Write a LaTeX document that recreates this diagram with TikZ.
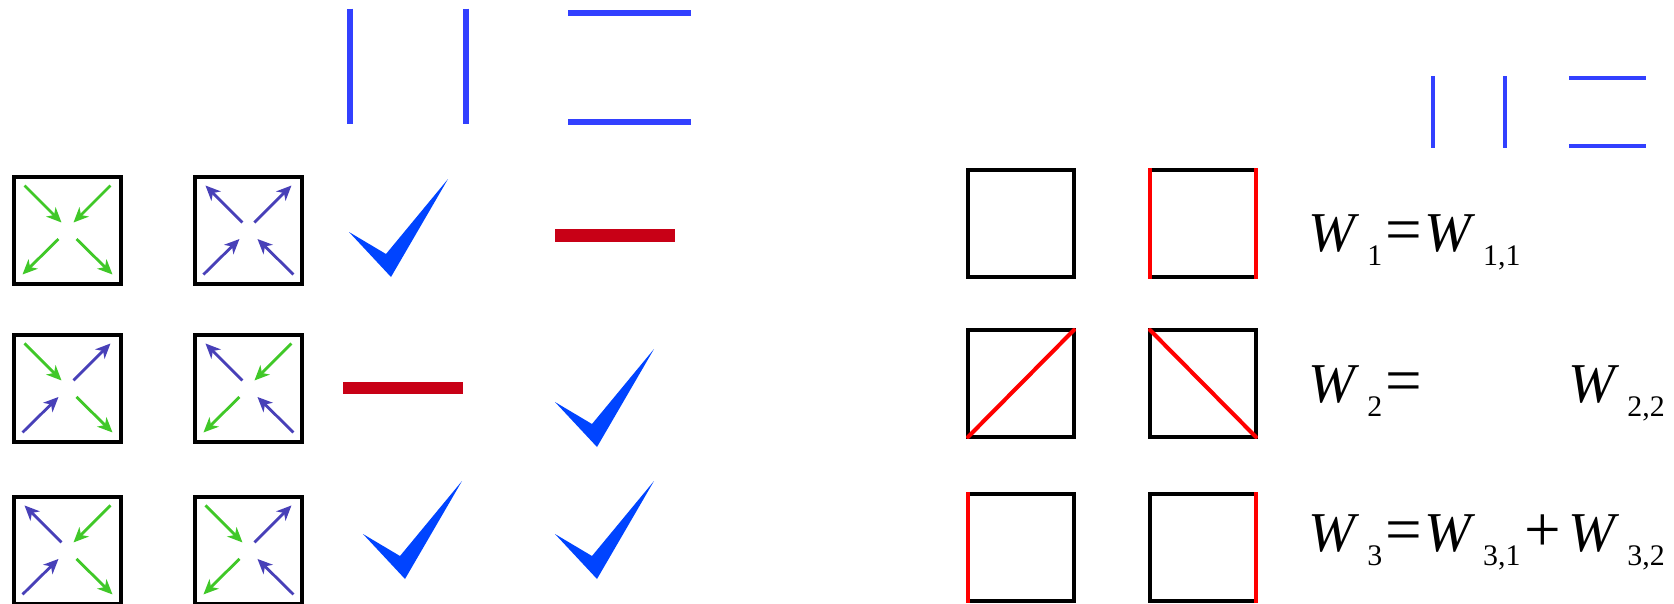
\documentclass[tikz,border=0pt]{standalone}
\usepackage{fontspec}
\setmainfont{Liberation Serif}
\usetikzlibrary{positioning, arrows.meta, calc}

\definecolor{arrgreen}{RGB}{64,200,40}
\definecolor{arrblue}{RGB}{72,64,184}
\definecolor{lineblue}{RGB}{50,64,255}
\definecolor{tickblue}{RGB}{0,68,255}
\definecolor{barred}{RGB}{200,0,22}
\definecolor{edgered}{RGB}{255,0,0}

\newcommand{\wsub}[1]{\textit{W}\kern4.5pt\raisebox{-8.5pt}{\fontsize{17pt}{17pt}\selectfont #1}}
\newcommand{\bigsym}[1]{{\fontsize{37pt}{37pt}\selectfont #1}}

\begin{document}
\begin{tikzpicture}[
    x=0.02cm, y=-0.02cm,
    cell/.style={draw, line width=2.3pt, minimum size=2.14cm, inner sep=0pt, outer sep=0pt},
    goesdown/.style={arrgreen, line width=1.6pt, -{Stealth[length=8.5pt, width=7.5pt, inset=2.5pt]}},
    goesup/.style={arrblue, line width=1.6pt, {Stealth[length=8.5pt, width=7.5pt, inset=2.5pt]}-},
    seg/.style={lineblue, line width=3.8pt},
    thinseg/.style={lineblue, line width=2.3pt},
    checkmk/.style={fill=tickblue},
    redbar/.style={fill=barred},
    hot/.style={edgered, line width=2.3pt, line cap=rect},
    eq/.style={font=\fontsize{32pt}{32pt}\selectfont, inner sep=0pt, anchor=base west},
]
\useasboundingbox (0,0) rectangle (1674,603);

% left grid of arrow cells
\node[cell] (b11) at (67.5,230.5) {};
\node[cell, right=1.48cm of b11] (b12) {};
\node[cell, below=1.02cm of b11] (b21) {};
\node[cell, right=1.48cm of b21] (b22) {};
\node[cell, below=1.1cm of b21] (b31) {};
\node[cell, right=1.48cm of b31] (b32) {};

\foreach \b/\p/\q/\r/\s in {b11/goesdown/goesdown/goesdown/goesdown,
    b12/goesup/goesup/goesup/goesup,
    b21/goesdown/goesup/goesup/goesdown,
    b22/goesup/goesdown/goesdown/goesup,
    b31/goesup/goesdown/goesup/goesdown,
    b32/goesdown/goesup/goesdown/goesup}{
  \draw[\p] ($(\b)+(-43,-45)$) -- ($(\b)+(-6,-8)$);
  \draw[\q] ($(\b)+(43,-45)$) -- ($(\b)+(6,-8)$);
  \draw[\r] ($(\b)+(-9,8.5)$) -- ($(\b)+(-45,44)$);
  \draw[\s] ($(\b)+(9,8.5)$) -- ($(\b)+(45,44)$);
}

% blue edge pairs on top
\draw[seg] (350,8.5) -- (350,124);
\draw[seg] (466,8.5) -- (466,124);
\draw[seg] (568,13) -- (691,13);
\draw[seg] (568,122) -- (691,122);

% ticks and bars
\coordinate (ck1) at (391,277);
\coordinate (ck2) at (597,447);
\coordinate (ck3) at (405,579);
\coordinate (ck4) at (597,579);
\foreach \c in {ck1,ck2,ck3,ck4}
  \fill[checkmk] (\c) -- +(-42,-45) -- +(-5,-23) -- +(57,-98) -- cycle;
\fill[redbar] (555,229) rectangle (675,241.5);
\fill[redbar] (343,382) rectangle (463,394);

% right grid
\node[cell, minimum width=2.12cm] (r11) at (1021,223.5) {};
\node[cell, minimum width=2.12cm, right=1.52cm of r11] (r12) {};
\node[cell, minimum width=2.12cm, below=1.06cm of r11] (r21) {};
\node[cell, minimum width=2.12cm, right=1.52cm of r21] (r22) {};
\node[cell, minimum width=2.12cm, below=1.14cm of r21] (r31) {};
\node[cell, minimum width=2.12cm, right=1.52cm of r31] (r32) {};

\draw[hot] (r12.north west) -- (r12.south west);
\draw[hot] (r12.north east) -- (r12.south east);
\draw[hot, line cap=round] (r21.south west) -- (r21.north east);
\draw[hot, line cap=round] (r22.north west) -- (r22.south east);
\draw[hot] (r31.north west) -- (r31.south west);
\draw[hot] (r32.north east) -- (r32.south east);

\draw[thinseg] (1433,76) -- (1433,148);
\draw[thinseg] (1505,76) -- (1505,148);
\draw[thinseg] (1569,78) -- (1646,78);
\draw[thinseg] (1569,146) -- (1646,146);

% formulas
\node[eq] (w1) at (1308,251) {\wsub{1}\kern2pt\bigsym{=}\kern1pt\wsub{1,1}};
\node[eq] (w2) at (1308,402) {\wsub{2}\kern2pt\bigsym{=}};
\node[eq] (w3) at (1308,551) {\wsub{3}\kern2pt\bigsym{=}\kern1pt\wsub{3,1}\kern2pt\bigsym{+}};
\node[eq] (w32) at ([xshift=4pt]w3.base east) {\wsub{3,2}};
\node[eq] (w22) at (w32.base west |- w2.base) {\wsub{2,2}};

\end{tikzpicture}
\end{document}
